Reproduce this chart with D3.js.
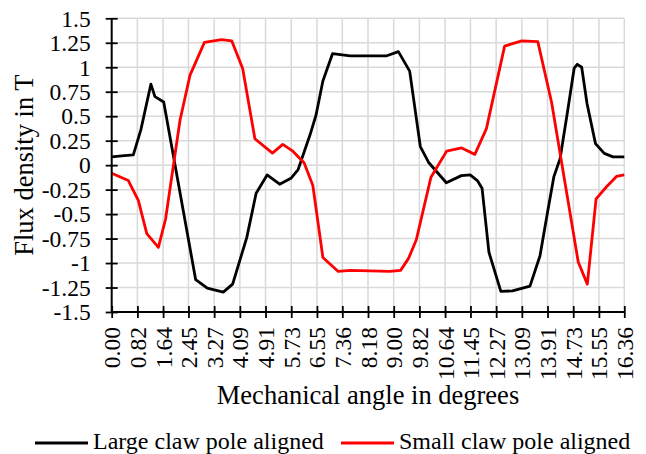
<!DOCTYPE html>
<html>
<head>
<meta charset="utf-8">
<script src="https://cdn.jsdelivr.net/npm/d3@7"></script>
<style>
  html, body { margin: 0; padding: 0; background: #fff; }
  svg { display: block; }
  text { font-family: "Liberation Serif", "Times New Roman", serif; fill: #000; }
</style>
</head>
<body>
<svg id="chart" width="646" height="454"></svg>
<script>
// Flux density (T) against mechanical angle (degrees)
const largeAngle = [0, 0.32, 0.69, 0.93, 1.25, 1.38, 1.66, 2.68, 3.05, 3.56, 3.86, 4.31, 4.61, 4.96, 5.36, 5.72, 5.95, 6.33, 6.52, 6.74, 7.05, 7.61, 8.78, 9.15, 9.51, 9.85, 10.11, 10.68, 11.16, 11.44, 11.67, 11.82, 12.04, 12.42, 12.79, 13.35, 13.67, 13.91, 14.11, 14.31, 14.55, 14.76, 14.86, 15.0, 15.17, 15.44, 15.72, 16.0, 16.36];
const largeFlux  = [0.085, 0.095, 0.105, 0.36, 0.827, 0.70, 0.645, -1.17, -1.256, -1.297, -1.215, -0.74, -0.287, -0.10, -0.195, -0.135, -0.045, 0.31, 0.51, 0.86, 1.14, 1.117, 1.117, 1.16, 0.96, 0.19, 0.03, -0.18, -0.107, -0.10, -0.157, -0.235, -0.89, -1.29, -1.284, -1.236, -0.925, -0.48, -0.12, 0.065, 0.55, 0.99, 1.03, 1.0, 0.63, 0.22, 0.12, 0.085, 0.085];

const smallAngle = [0, 0.53, 0.85, 1.12, 1.49, 1.72, 2.18, 2.5, 2.96, 3.51, 3.83, 4.18, 4.57, 5.13, 5.46, 5.78, 6.14, 6.42, 6.74, 7.23, 7.61, 8.88, 9.22, 9.47, 9.72, 10.19, 10.69, 11.17, 11.59, 11.96, 12.54, 13.09, 13.6, 14.04, 14.89, 15.18, 15.46, 15.8, 16.11, 16.36];
const smallFlux  = [-0.082, -0.157, -0.36, -0.70, -0.84, -0.55, 0.458, 0.92, 1.254, 1.282, 1.27, 0.988, 0.27, 0.123, 0.212, 0.143, 0.025, -0.208, -0.943, -1.086, -1.074, -1.086, -1.075, -0.955, -0.764, -0.123, 0.143, 0.176, 0.11, 0.373, 1.216, 1.27, 1.262, 0.64, -0.99, -1.215, -0.344, -0.218, -0.115, -0.10];

const xTickLabels = ["0.00", "0.82", "1.64", "2.45", "3.27", "4.09", "4.91", "5.73", "6.55", "7.36", "8.18", "9.00", "9.82", "10.64", "11.45", "12.27", "13.09", "13.91", "14.73", "15.55", "16.36"];
const yTickLabels = ["1.5", "1.25", "1", "0.75", "0.5", "0.25", "0", "-0.25", "-0.5", "-0.75", "-1", "-1.25", "-1.5"];

const seriesNames = ["Large claw pole aligned", "Small claw pole aligned"];
const seriesColors = ["#000000", "#ff0000"];

const FONT = "Liberation Serif";
const svg = d3.select("#chart");
const plot = { left: 111.7, right: 624.3, top: 18.3, bottom: 312 };

const x = d3.scaleLinear().domain([0, 16.36]).range([plot.left, plot.right]);
const y = d3.scaleLinear().domain([-1.5, 1.5]).range([plot.bottom, plot.top]);

const xTicks = xTickLabels.map(Number);
const yTicks = yTickLabels.map(Number);

// gridlines
const grid = svg.append("g").attr("stroke", "#d9d9d9").attr("stroke-width", 1.5);
grid.selectAll("line.v").data(xTicks.slice(1)).enter().append("line")
  .attr("x1", d => x(d)).attr("x2", d => x(d))
  .attr("y1", plot.top).attr("y2", plot.bottom);
grid.selectAll("line.h").data(yTicks.filter(d => d !== -1.5)).enter().append("line")
  .attr("x1", plot.left).attr("x2", plot.right)
  .attr("y1", d => y(d)).attr("y2", d => y(d));

// series lines
const series = [
  { name: seriesNames[0], color: seriesColors[0], pts: largeAngle.map((a, i) => [a, largeFlux[i]]) },
  { name: seriesNames[1], color: seriesColors[1], pts: smallAngle.map((a, i) => [a, smallFlux[i]]) }
];
const line = d3.line().x(d => x(d[0])).y(d => y(d[1]));
svg.append("g").selectAll("path").data(series).enter().append("path")
  .attr("d", d => line(d.pts))
  .attr("fill", "none")
  .attr("stroke", d => d.color)
  .attr("stroke-width", 2.8)
  .attr("stroke-linejoin", "round");

// y axis with crossing ticks
const yAxis = d3.axisLeft(y).tickValues(yTicks).tickSize(0).tickFormat((d, i) => yTickLabels[i]);
const gy = svg.append("g").attr("transform", `translate(${plot.left},0)`).call(yAxis)
  .attr("font-family", FONT).attr("font-size", 23.5);
gy.select(".domain").remove();
gy.selectAll(".tick line").remove();
gy.selectAll(".tick").append("line").attr("x1", -6).attr("x2", 6).attr("stroke", "#000").attr("stroke-width", 1.8);
gy.selectAll(".tick text").attr("x", -21).attr("dy", "0.33em")
  .style("font-size", "23.5px").style("font-family", FONT);
gy.append("line").attr("x1", 0).attr("x2", 0).attr("y1", plot.top).attr("y2", plot.bottom)
  .attr("stroke", "#000").attr("stroke-width", 2);

// x axis with crossing ticks and vertical labels
const xAxis = d3.axisBottom(x).tickValues(xTicks).tickSize(0).tickFormat((d, i) => xTickLabels[i]);
const gx = svg.append("g").attr("transform", `translate(0,${plot.bottom})`).call(xAxis)
  .attr("font-family", FONT).attr("font-size", 23.5);
gx.select(".domain").remove();
gx.selectAll(".tick line").remove();
gx.selectAll(".tick").append("line").attr("y1", -6).attr("y2", 6).attr("stroke", "#000").attr("stroke-width", 1.8);
gx.selectAll(".tick text")
  .attr("transform", "rotate(-90)")
  .attr("x", -15).attr("y", 0).attr("dy", "0.34em")
  .attr("text-anchor", "end")
  .style("font-size", "23.5px").style("font-family", FONT);
gx.append("line").attr("x1", plot.left).attr("x2", plot.right).attr("y1", 0).attr("y2", 0)
  .attr("stroke", "#000").attr("stroke-width", 2);

// axis titles
svg.append("text").attr("x", (plot.left + plot.right) / 2).attr("y", 404).attr("text-anchor", "middle")
  .style("font-size", "26.5px").text("Mechanical angle in degrees");
svg.append("text").attr("transform", `translate(33,${(plot.top + plot.bottom) / 2}) rotate(-90)`)
  .attr("text-anchor", "middle").style("font-size", "26.5px").text("Flux density in T");

// legend
const legendX = [35, 341];
const lg = svg.append("g").selectAll("g").data(series).enter().append("g")
  .attr("transform", (d, i) => `translate(${legendX[i]},443)`);
lg.append("line").attr("x1", 0).attr("x2", 53)
  .attr("stroke", d => d.color).attr("stroke-width", 2.8);
lg.append("text").attr("x", 58).attr("y", 5.5)
  .style("font-size", "24px").text(d => d.name);
</script>
</body>
</html>
